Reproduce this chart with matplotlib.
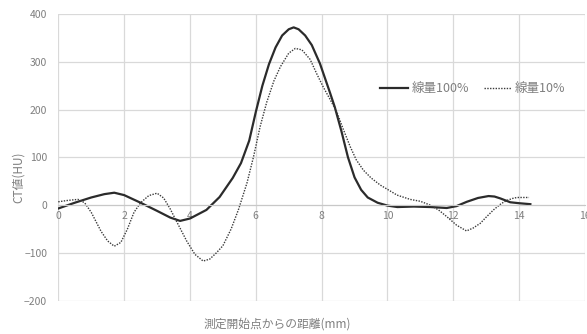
import matplotlib.pyplot as plt

plt.rcParams['font.family'] = ['Noto Sans CJK JP', 'DejaVu Sans']

# 線量100%
x_full = [0, 0.5, 1.0, 1.4, 1.7, 2.0, 2.5, 3.0, 3.4, 3.7, 4.0, 4.5, 4.9, 5.3,
          5.55, 5.8, 6.0, 6.2, 6.4, 6.6, 6.8, 7.0, 7.15, 7.3, 7.5, 7.7, 7.95,
          8.25, 8.4, 8.6, 8.8, 9.0, 9.2, 9.4, 9.7, 10.0, 10.3, 10.8, 11.3,
          11.8, 12.1, 12.41, 12.75, 13.07, 13.25, 13.43, 13.73, 14.0, 14.34]
y_full = [-7, 5, 16, 23, 26, 21, 5, -12, -26, -33, -28, -10, 17, 57,
          88, 135, 195, 250, 295, 330, 355, 368, 372, 368, 355, 335, 296,
          236, 205, 155, 100, 58, 32, 16, 5, -1, -4, -3, -4,
          -6, -2, 7, 15, 19, 18, 14, 6, 4, 2]

# 線量10%
x_low = [0, 0.3, 0.6, 0.8, 1.0, 1.3, 1.5, 1.7, 1.9, 2.1, 2.3, 2.5, 2.75, 3.0,
         3.2, 3.4, 3.6, 3.9, 4.15, 4.4, 4.6, 4.8, 5.0, 5.25, 5.47, 5.73, 5.93,
         6.13, 6.33, 6.55, 6.75, 7.0, 7.2, 7.4, 7.65, 7.85, 8.05, 8.25, 8.46,
         8.65, 8.87, 9.05, 9.27, 9.5, 9.78, 10.0, 10.29, 10.69, 11.0, 11.3,
         11.55, 11.8, 12.1, 12.4, 12.6, 12.82, 13.0, 13.22, 13.45, 13.63, 13.8,
         13.93, 14.3]
y_low = [7, 10, 12, 5, -15, -55, -75, -86, -78, -50, -15, 5, 20, 25,
         15, -8, -35, -75, -103, -117, -113, -100, -85, -50, -10, 46, 101,
         164, 215, 260, 290, 318, 328, 325, 305, 275, 247, 222, 195,
         160, 122, 95, 73, 57, 42, 33, 21, 12, 8, 0,
         -10, -24, -42, -54, -48, -38, -25, -10, 3, 10, 14,
         16, 16]

xticks = [0, 2, 4, 6, 8, 10, 12, 14, 16]
yticks = [-200, -100, 0, 100, 200, 300, 400]

fig = plt.figure(figsize=(5.87, 3.34), dpi=100)
ax = fig.add_axes([0.0993, 0.0997, 0.8973, 0.8584])

ax.plot(x_full, y_full, color='#2b2b2b', lw=1.6, label='線量100%')
ax.plot(x_low, y_low, color='#3a3a3a', lw=1.0, ls=(0, (1, 1)), label='線量10%')

ax.set_xlim(0, 16)
ax.set_ylim(-200, 400)
ax.set_xticks(xticks)
ax.set_yticks(yticks)
ax.grid(True, color='#d9d9d9', lw=0.9)
ax.set_axisbelow(True)

for s in ['top', 'right', 'left']:
    ax.spines[s].set_visible(False)
ax.spines['bottom'].set_position(('data', 0))
ax.spines['bottom'].set_color('#c8c8c8')
ax.tick_params(length=0, labelsize=7.5, labelcolor='#7f7f7f')
ax.tick_params(axis='x', pad=4)
ax.tick_params(axis='y', pad=8)

fig.text(0.032, 0.47, 'CT値(HU)', rotation=90, ha='center', va='center',
         fontsize=8.5, color='#7f7f7f')
fig.text(0.472, 0.03, '測定開始点からの距離(mm)', ha='center', va='center',
         fontsize=8.5, color='#7f7f7f')

ax.legend(loc='center', bbox_to_anchor=(0.787, 0.74), ncol=2, frameon=False,
          fontsize=9, labelcolor='#7f7f7f', handlelength=2.2,
          handletextpad=0.3, columnspacing=1.2)

fig.savefig('out.png', dpi=100)
